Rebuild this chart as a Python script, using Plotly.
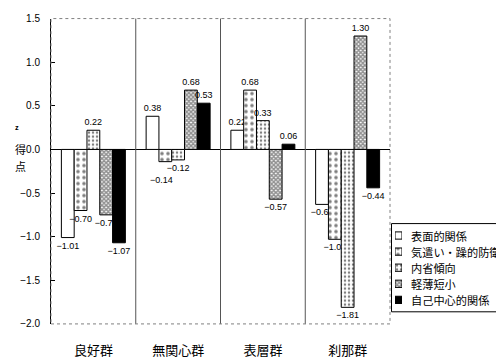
import plotly.graph_objects as go

# グループ（横軸カテゴリ）
groups = ["良好群", "無関心群", "表層群", "刹那群"]

# 系列名
series_names = ["表面的関係", "気遣い・躁的防衛", "内省傾向", "軽薄短小", "自己中心的関係"]

# 各系列の z 得点（groups の順）
surface_rel = [-1.01, 0.38, 0.22, -0.63]
care_defense = [-0.70, -0.14, 0.68, -1.03]
introspection = [0.22, -0.12, 0.33, -1.81]
frivolous = [-0.75, 0.68, -0.57, 1.30]
selfcentered = [-1.07, 0.53, 0.06, -0.44]
series_values = [surface_rel, care_defense, introspection, frivolous, selfcentered]

# 縦軸目盛
y_ticks = [-2.0, -1.5, -1.0, -0.5, 0.0, 0.5, 1.0, 1.5]

W, H = 496, 359
PX_L, PX_R, PX_T, PX_B = 51, 390, 14, 329

# 系列ごとの塗り（白・粗い点・細かい点・網目・黒）
styles = [
    dict(color="white", pattern=dict(shape="")),
    dict(color="white", pattern=dict(shape=".", size=6, solidity=0.28, fgcolor="black", bgcolor="white")),
    dict(color="white", pattern=dict(shape=".", size=4, solidity=0.3, fgcolor="black", bgcolor="white")),
    dict(color="white", pattern=dict(shape="x", size=3, solidity=0.75, fgcolor="#222222", bgcolor="white")),
    dict(color="black", pattern=dict(shape="")),
]

TICK_FONT = "Liberation Sans, Arial, sans-serif"
CJK_FONT = "Noto Sans CJK JP, sans-serif"
LABEL_FONT = dict(family=TICK_FONT, size=9, color="black")


def fmt(v):
    return f"{v:.2f}".replace("-", "−")


fig = go.Figure()

for si, (name, vals, st) in enumerate(zip(series_names, series_values, styles)):
    labels = [fmt(v) for v in vals]
    if si == 1:
        # 無関心群の「気遣い」は隣のラベルと重なるため注記で下にずらして描く
        labels[1] = ""
        fig.add_annotation(x=groups[1], y=vals[1], text=fmt(vals[1]), showarrow=False,
                           xshift=-17, yshift=-18, font=LABEL_FONT)
    fig.add_trace(go.Bar(
        x=groups, y=vals, name=name,
        marker=dict(color=st["color"], pattern=st["pattern"],
                    line=dict(color="black", width=1)),
        text=labels, textposition="outside",
        textfont=LABEL_FONT,
        constraintext="none", cliponaxis=False, showlegend=False,
    ))

# 凡例（見本の棒と文字）
for i, (name, st) in enumerate(zip(series_names, styles)):
    fig.add_trace(go.Bar(
        y=[i], x=[1], base=[0], orientation="h", width=0.45, offset=-0.225,
        xaxis="x2", yaxis="y2", showlegend=False, hoverinfo="skip",
        marker=dict(color=st["color"], pattern=st["pattern"],
                    line=dict(color="black", width=1)),
    ))
    fig.add_annotation(
        x=409 / W, xref="paper", xanchor="left", y=i, yref="y2",
        text=name, showarrow=False,
        font=dict(family=CJK_FONT, size=11.2, color="black"),
    )

leg_top, leg_bottom = 225.5, 316.5
row_h = (leg_bottom - leg_top - 8) / 5
fig.add_shape(type="rect", xref="paper", yref="paper",
              x0=391.5 / W, x1=1.05, y0=1 - leg_bottom / H, y1=1 - leg_top / H,
              line=dict(color="black", width=1), fillcolor="white", layer="below")

# 区切り線
for xv in [0.5, 1.5, 2.5]:
    fig.add_shape(type="line", xref="x", yref="y domain", x0=xv, x1=xv, y0=0, y1=1,
                  line=dict(color="#555555", width=1))

# 枠（点線）
fig.add_shape(type="rect", xref="x domain", yref="y domain", x0=0, x1=1, y0=0, y1=1,
              line=dict(color="#808080", width=1, dash="dot"))

# 縦軸タイトル
for ch, yv, sz in [("<b>z</b>", 0.26, 7), ("得", 0.01, 11), ("点", -0.19, 11)]:
    fig.add_annotation(x=13 / W, xref="paper", y=yv, yref="y", text=ch,
                       showarrow=False, font=dict(family=CJK_FONT, size=sz, color="black"))

y2_top = leg_top + 4
y2_bot = y2_top + 5 * row_h

fig.update_layout(
    width=W, height=H,
    margin=dict(l=0, r=0, t=0, b=0),
    paper_bgcolor="white", plot_bgcolor="white",
    barmode="group", bargap=0.245, bargroupgap=0,
    xaxis=dict(domain=[PX_L / W, PX_R / W], showgrid=False, showline=False,
               ticks="outside", ticklen=14, tickcolor="rgba(0,0,0,0)",
               tickfont=dict(family=CJK_FONT, size=13, color="black")),
    yaxis=dict(domain=[1 - PX_B / H, 1 - PX_T / H], range=[-2.0, 1.5],
               tickvals=y_ticks, tickformat=".1f", showgrid=False,
               showline=True, linecolor="black", linewidth=1,
               ticks="inside", ticklen=4, tickcolor="black",
               zeroline=True, zerolinecolor="black", zerolinewidth=1,
               ticklabelstandoff=8,
               tickfont=dict(family=TICK_FONT, size=10, color="black")),
    xaxis2=dict(domain=[395 / W, 402 / W], range=[0, 1], visible=False, anchor="y2"),
    yaxis2=dict(domain=[1 - y2_bot / H, 1 - y2_top / H], range=[4.5, -0.5],
                visible=False, anchor="x2"),
)

fig.write_html("out.html")
